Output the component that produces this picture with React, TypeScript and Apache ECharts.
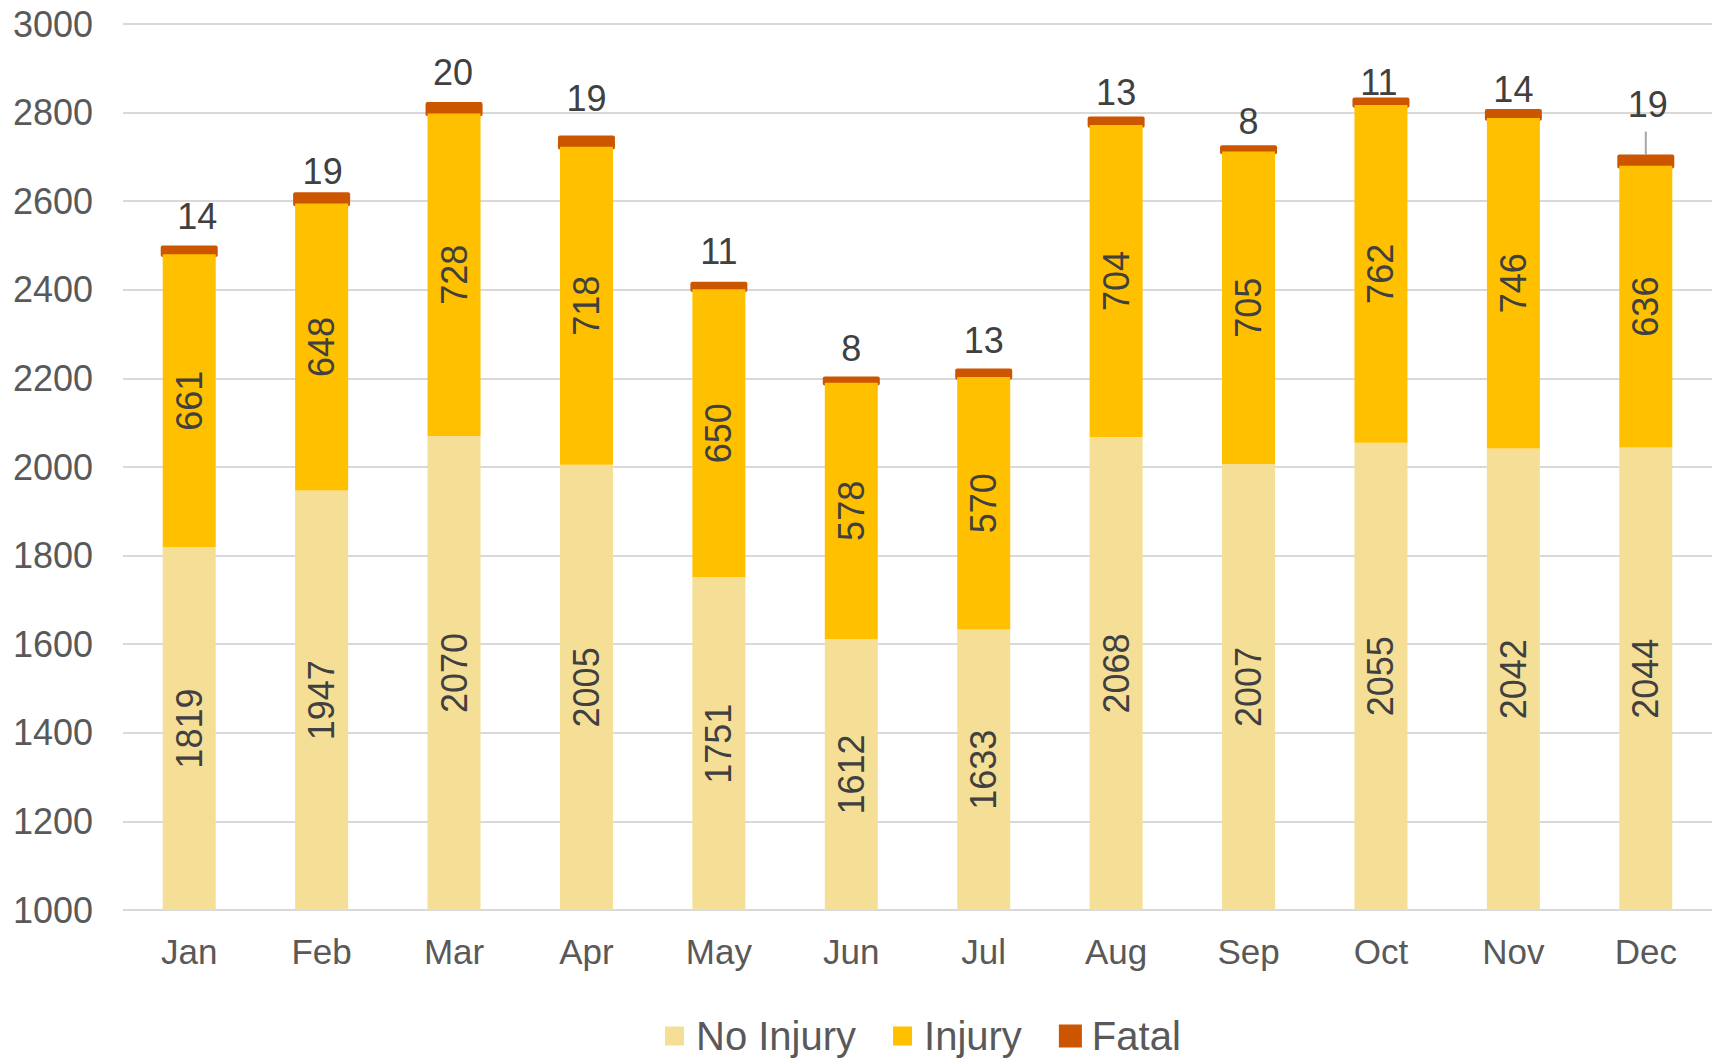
import React, { useEffect, useRef } from "react";
import * as echarts from "echarts";

const months = ["Jan", "Feb", "Mar", "Apr", "May", "Jun", "Jul", "Aug", "Sep", "Oct", "Nov", "Dec"];
const noInjury = [1819, 1947, 2070, 2005, 1751, 1612, 1633, 2068, 2007, 2055, 2042, 2044];
const injury = [661, 648, 728, 718, 650, 578, 570, 704, 705, 762, 746, 636];
const fatal = [14, 19, 20, 19, 11, 8, 13, 13, 8, 11, 14, 19];

// styling: gap (px) between Fatal label and its bar, and horizontal nudge, as placed in the original
const fatalLabelGap = [16, 8, 16, 24, 17, 15, 15, 11, 11, 2, 6, 37];
const fatalLabelDx = [8, 1, -1, 0, 0, 0, 0, 0, 0, -2, 0, 2];
const leaderIndex = 11;

const FONT = "'Liberation Sans', Arial, sans-serif";
const TEXT = "#595959";
const LABEL = "#404040";
const FATAL_COLOR = "#CC5500";
const BAR_W = 53;

export default function App() {
  const ref = useRef<HTMLDivElement>(null);
  useEffect(() => {
    document.body.style.margin = "0";
    if (!ref.current) return;
    const chart = echarts.init(ref.current, null, { renderer: "svg" });
    const innerLabel = {
      show: true,
      position: "inside",
      rotate: 90,
      color: LABEL,
      fontSize: 36,
      fontFamily: FONT,
    };
    const fatalData = months.map((_, i) => [
      i,
      noInjury[i] + injury[i],
      noInjury[i] + injury[i] + fatal[i],
      fatal[i],
    ]);
    chart.setOption({
      animation: false,
      backgroundColor: "#ffffff",
      textStyle: { fontFamily: FONT },
      grid: { left: 123, right: 7, top: 24, bottom: 148, containLabel: false },
      legend: {
        data: [
          { name: "No Injury", itemStyle: { color: "#F5DF97" } },
          { name: "Injury", itemStyle: { color: "#FFC000" } },
          { name: "Fatal", itemStyle: { color: FATAL_COLOR, borderColor: FATAL_COLOR, borderWidth: 4 } },
        ],
        left: 665,
        top: 1016,
        padding: 0,
        icon: "rect",
        itemWidth: 19,
        itemHeight: 19,
        itemGap: 37,
        textStyle: { color: TEXT, fontSize: 40, fontFamily: FONT, padding: [0, 0, 0, 7] },
      },
      xAxis: {
        type: "category",
        data: months,
        axisLine: { show: false },
        axisTick: { show: false },
        axisLabel: { color: TEXT, fontSize: 35, fontFamily: FONT, margin: 24 },
      },
      yAxis: {
        type: "value",
        min: 1000,
        max: 3000,
        interval: 200,
        axisLine: { show: false },
        axisTick: { show: false },
        axisLabel: {
          color: TEXT,
          fontSize: 36,
          fontFamily: FONT,
          margin: 30,
          formatter: (v: number) => String(v),
        },
        splitLine: { lineStyle: { color: "#d9d9d9", width: 2 } },
      },
      series: [
        {
          name: "No Injury",
          type: "bar",
          stack: "total",
          barWidth: BAR_W,
          data: noInjury,
          itemStyle: { color: "#F5DF97" },
          label: innerLabel,
        },
        {
          name: "Injury",
          type: "bar",
          stack: "total",
          barWidth: BAR_W,
          data: injury,
          itemStyle: { color: "#FFC000" },
          label: innerLabel,
        },
        {
          name: "Fatal",
          type: "custom",
          data: fatalData,
          encode: { x: 0, y: 2 },
          itemStyle: { color: FATAL_COLOR },
          clip: false,
          renderItem: (params: any, api: any) => {
            const i = api.value(0);
            const base = api.coord([i, api.value(1)]);
            const top = api.coord([i, api.value(2)]);
            const val = api.value(3);
            const padY = 2.75;
            const padX = 2;
            const w = BAR_W + 2 * padX;
            const rectTop = top[1] - padY;
            const children: any[] = [
              {
                type: "rect",
                shape: { x: base[0] - w / 2, y: rectTop, width: w, height: base[1] - top[1] + 2 * padY, r: 2 },
                style: { fill: FATAL_COLOR },
              },
            ];
            const gap = fatalLabelGap[i];
            const digitBottom = rectTop - gap;
            if (i === leaderIndex) {
              children.push({
                type: "line",
                shape: { x1: base[0], y1: rectTop, x2: base[0], y2: rectTop - 23 },
                style: { stroke: "#a6a6a6", lineWidth: 2 },
              });
            }
            children.push({
              type: "text",
              x: base[0] + fatalLabelDx[i],
              y: digitBottom - 13,
              style: {
                text: String(val),
                fill: LABEL,
                font: `36px ${FONT}`,
                textAlign: "center",
                textVerticalAlign: "middle",
              },
            });
            return { type: "group", children };
          },
        },
      ],
    });
    return () => chart.dispose();
  }, []);
  return <div ref={ref} style={{ width: 1719, height: 1058 }} />;
}
